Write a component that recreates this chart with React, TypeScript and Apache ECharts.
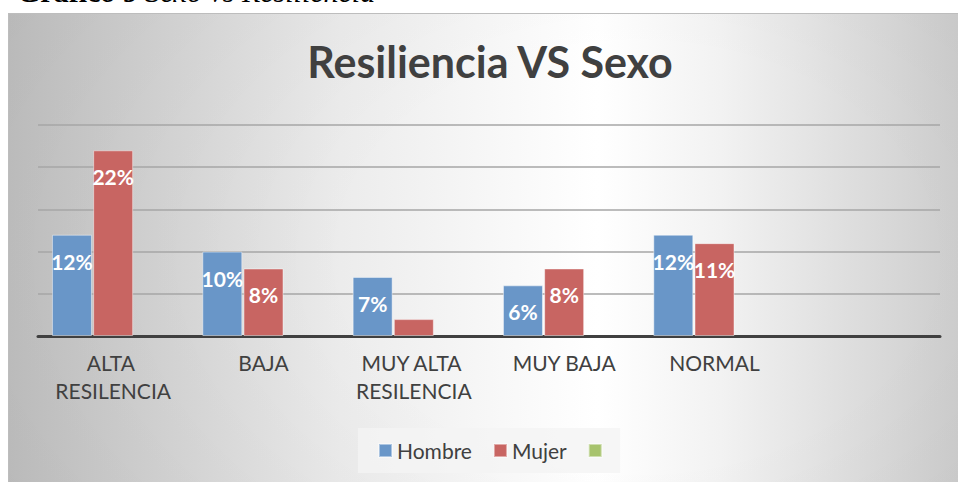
import React, { useEffect, useRef } from "react";
import * as echarts from "echarts";

const categories = ["ALTA RESILENCIA", "BAJA", "MUY ALTA RESILENCIA", "MUY BAJA", "NORMAL", ""];
const hombre = [12, 10, 7, 6, 12, null];
const mujer = [22, 8, 2, 8, 11, null];
const tercera: (number | null)[] = [null, null, null, null, null, null];
const seriesNames = ["Hombre", "Mujer", " "];
const yTicks = [0, 5, 10, 15, 20, 25];
const hiddenLabelBelow = 3;

const FONT = "Lato, 'Open Sans', sans-serif";

export default function App() {
  const ref = useRef<HTMLDivElement>(null);
  useEffect(() => {
    if (!ref.current) return;
    const chart = echarts.init(ref.current, undefined, { renderer: "svg" });
    const mk = (vals: (number | null)[]) =>
      vals.map((v) => ({
        value: v,
        label: { show: v != null && v >= hiddenLabelBelow },
      }));
    const barLabel = {
      show: true,
      position: "insideTop",
      distance: 16,
      color: "#ffffff",
      fontFamily: FONT,
      fontWeight: "bold",
      fontSize: 21,
      formatter: (p: any) => `${p.value}%`,
    };
    chart.setOption({
      animation: false,
      backgroundColor: "transparent",
      textStyle: { fontFamily: FONT },
      title: {
        text: "Resiliencia VS Sexo",
        left: 485,
        textAlign: "center",
        top: 35,
        textStyle: { fontFamily: FONT, fontWeight: "bold", fontSize: 43, color: "#404040" },
      },
      graphic: [
        {
          type: "text",
          left: 17,
          top: -24,
          style: {
            text: "{b|Gráfico 9 }{i|Sexo vs Resiliencia}",
            rich: {
              b: { fontFamily: "'Liberation Serif', serif", fontWeight: "bold", fontSize: 30, fill: "#000" },
              i: { fontFamily: "'Liberation Serif', serif", fontStyle: "italic", fontSize: 30, fill: "#000" },
            },
          },
        },
      ],
      legend: {
        data: seriesNames,
        left: 358,
        top: 428,
        itemWidth: 13,
        itemHeight: 13,
        itemGap: 21,
        icon: "rect",
        backgroundColor: "rgba(244,244,244,0.8)",
        padding: [12, 8, 12, 20],
        textStyle: { fontFamily: FONT, fontSize: 21, color: "#404040" },
      },
      grid: { left: 38, right: 18, top: 125, bottom: 146, containLabel: false },
      xAxis: {
        type: "category",
        data: categories,
        axisLine: { show: true, lineStyle: { color: "#404040", width: 3 } },
        axisTick: { show: false },
        axisLabel: {
          interval: 0,
          margin: 12,
          width: 130,
          overflow: "break",
          fontFamily: FONT,
          fontSize: 21,
          lineHeight: 28,
          color: "#404040",
        },
      },
      yAxis: {
        type: "value",
        min: yTicks[0],
        max: yTicks[yTicks.length - 1],
        interval: yTicks[1] - yTicks[0],
        axisLabel: { show: false },
        axisLine: { show: false },
        axisTick: { show: false },
        splitLine: { lineStyle: { color: "#a6a6a6", width: 1.5 } },
      },
      series: [
        {
          name: seriesNames[0],
          type: "bar",
          data: mk(hombre),
          barWidth: 40,
          barGap: "3%",
          itemStyle: { color: "#6996c8", borderColor: "rgba(255,255,255,0.45)", borderWidth: 1 },
          label: barLabel,
        },
        {
          name: seriesNames[1],
          type: "bar",
          data: mk(mujer),
          barWidth: 40,
          barGap: "3%",
          itemStyle: { color: "#c86562", borderColor: "rgba(255,255,255,0.45)", borderWidth: 1 },
          label: barLabel,
        },
        {
          name: seriesNames[2],
          type: "bar",
          data: tercera,
          barWidth: 40,
          barGap: "3%",
          itemStyle: { color: "#a7c36d", borderColor: "rgba(255,255,255,0.45)", borderWidth: 1 },
        },
      ],
    });
    return () => chart.dispose();
  }, []);

  return (
    <div style={{ position: "fixed", left: 0, top: 0, width: 958, height: 482, background: "#ffffff", overflow: "hidden" }}>
      <div
        style={{
          position: "absolute",
          left: 8,
          top: 13,
          width: 950,
          height: 469,
          boxSizing: "border-box",
          borderTop: "1px solid #bdbdbd",
          borderLeft: "1px solid #bdbdbd",
          background:
            "radial-gradient(ellipse 75% 110% at 66% 52%, rgba(0,0,0,0) 40%, rgba(0,0,0,0.05) 100%), linear-gradient(to right, #c3c3c3 0%, #ececec 35%, #ffffff 62%, #f2f2f2 75%, #cdcdcd 100%)",
        }}
      />
      <div ref={ref} style={{ position: "absolute", left: 0, top: 0, width: 958, height: 482 }} />
    </div>
  );
}
